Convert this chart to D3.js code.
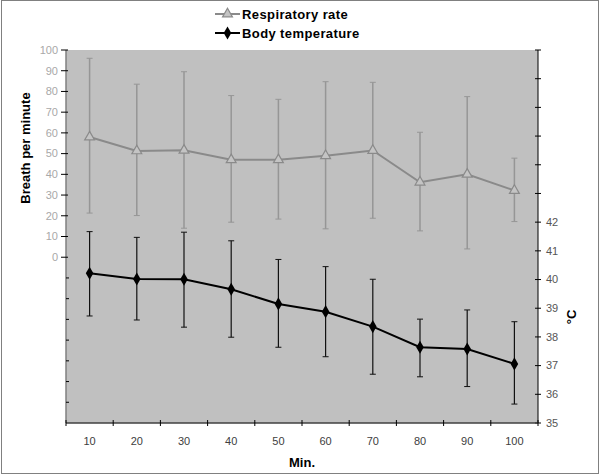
<!DOCTYPE html>
<html>
<head>
<meta charset="utf-8">
<script src="https://cdn.jsdelivr.net/npm/d3@7"></script>
<style>
  body { margin: 0; background: #fff; }
  svg { display: block; font-family: "Liberation Sans", Arial, sans-serif; }
</style>
</head>
<body>
<svg id="chart" width="600" height="475"></svg>
<script>
// ---- data ----
const minutes = [10, 20, 30, 40, 50, 60, 70, 80, 90, 100];
const respMean = [58, 51.3, 51.6, 47, 47, 49, 51.5, 36.2, 40, 32.2];
const respHigh = [96, 83.5, 89.5, 78, 76.2, 84.7, 84.4, 60.3, 77.5, 47.8];
const respLow  = [21.3, 20.1, 14, 16.9, 18.4, 13.7, 18.8, 12.7, 4, 17.2];
const tempMean = [40.22, 40.02, 40.01, 39.66, 39.15, 38.88, 38.36, 37.64, 37.58, 37.06];
const tempHigh = [41.67, 41.47, 41.65, 41.35, 40.7, 40.45, 40.01, 38.62, 38.94, 38.53];
const tempLow  = [38.73, 38.59, 38.34, 37.99, 37.64, 37.31, 36.7, 36.61, 36.27, 35.66];
const leftTickLabels = [0, 10, 20, 30, 40, 50, 60, 70, 80, 90, 100];
const leftMinorTicks = [-10, -20, -30, -40, -50, -60, -70];
const rightTickLabels = [35, 36, 37, 38, 39, 40, 41, 42];
const rightMinorTicks = [43, 44, 45, 46, 47, 48];
const seriesNames = ["Respiratory rate", "Body temperature"];

// ---- layout ----
const svg = d3.select("#chart");
const L = 66, R = 538, T = 50, B = 423;

const x = d3.scaleBand().domain(minutes).range([L, R]);
const yL = d3.scaleLinear().domain([-80, 100]).range([B, T]);
const yR = d3.scaleLinear().domain([35, 48]).range([B, T]);
const cx = d => x(d) + x.bandwidth() / 2;

// outer frame
svg.append("rect").attr("x", 1.5).attr("y", 0.5).attr("width", 597).attr("height", 473)
  .attr("fill", "#fff").attr("stroke", "#808080").attr("stroke-width", 1);

// plot area
svg.append("rect").attr("x", L).attr("y", T).attr("width", R - L).attr("height", B - T)
  .attr("fill", "#c0c0c0");

// ---- left axis ----
const gL = svg.append("g");
gL.append("line").attr("x1", L).attr("x2", L).attr("y1", T).attr("y2", B)
  .attr("stroke", "#808080").attr("stroke-width", 1.5);
gL.selectAll(".lt").data(leftTickLabels).join("line")
  .attr("x1", L - 5).attr("x2", L + 2)
  .attr("y1", d => yL(d)).attr("y2", d => yL(d))
  .attr("stroke", "#000").attr("stroke-width", 1);
gL.selectAll(".lm").data(leftMinorTicks).join("line")
  .attr("x1", L).attr("x2", L + 3)
  .attr("y1", d => yL(d)).attr("y2", d => yL(d))
  .attr("stroke", "#000").attr("stroke-width", 1);
gL.selectAll("text").data(leftTickLabels).join("text")
  .attr("x", L - 8).attr("y", d => yL(d)).attr("dy", "0.35em")
  .attr("text-anchor", "end").attr("font-size", 11).attr("fill", "#a8a8a8")
  .text(d => d);

// ---- right axis ----
const gR = svg.append("g");
gR.append("line").attr("x1", R).attr("x2", R).attr("y1", T).attr("y2", B)
  .attr("stroke", "#000").attr("stroke-width", 1);
gR.selectAll(".rt").data(rightTickLabels.concat(rightMinorTicks)).join("line")
  .attr("x1", R - 3).attr("x2", R + 3)
  .attr("y1", d => yR(d)).attr("y2", d => yR(d))
  .attr("stroke", "#000").attr("stroke-width", 1);
gR.selectAll("text").data(rightTickLabels).join("text")
  .attr("x", R + 8).attr("y", d => yR(d)).attr("dy", "0.35em")
  .attr("text-anchor", "start").attr("font-size", 11).attr("fill", "#555")
  .text(d => d);

// ---- bottom axis ----
const gB = svg.append("g");
gB.append("line").attr("x1", L).attr("x2", R).attr("y1", B).attr("y2", B)
  .attr("stroke", "#404040").attr("stroke-width", 1.5);
const bounds = minutes.map(d => x(d)).concat([x(minutes[minutes.length - 1]) + x.bandwidth()]);
gB.selectAll(".bt").data(bounds).join("line")
  .attr("x1", d => d).attr("x2", d => d).attr("y1", B - 3).attr("y2", B + 3)
  .attr("stroke", "#000").attr("stroke-width", 1);
gB.selectAll("text").data(minutes).join("text")
  .attr("x", d => cx(d)).attr("y", 445)
  .attr("text-anchor", "middle").attr("font-size", 11).attr("fill", "#404040")
  .text(d => d);

// ---- axis titles ----
svg.append("text").attr("transform", "translate(30,148) rotate(-90)")
  .attr("text-anchor", "middle").attr("font-size", 13).attr("font-weight", "bold")
  .text("Breath per minute");
svg.append("text").attr("transform", "translate(576,317) rotate(-90)")
  .attr("text-anchor", "middle").attr("font-size", 13).attr("font-weight", "bold")
  .text("°C");
svg.append("text").attr("x", 302).attr("y", 467)
  .attr("text-anchor", "middle").attr("font-size", 13).attr("font-weight", "bold")
  .text("Min.");

// ---- markers ----
const tri = d3.symbol().type(d3.symbolTriangle).size(42);
const dia = d3.symbol().type(d3.symbolDiamond).size(50);

// ---- respiratory rate series ----
const respColor = "#8a8a8a";
const gResp = svg.append("g");
gResp.selectAll(".eb").data(minutes).join("line")
  .attr("x1", d => cx(d)).attr("x2", d => cx(d))
  .attr("y1", (d, i) => yL(respHigh[i])).attr("y2", (d, i) => yL(respLow[i]))
  .attr("stroke", "#969696").attr("stroke-width", 1.5);
["respHigh", "respLow"].forEach((k, j) => {
  const arr = j === 0 ? respHigh : respLow;
  gResp.selectAll(".cap" + j).data(minutes).join("line")
    .attr("x1", d => cx(d) - 3).attr("x2", d => cx(d) + 3)
    .attr("y1", (d, i) => yL(arr[i])).attr("y2", (d, i) => yL(arr[i]))
    .attr("stroke", "#969696").attr("stroke-width", 1);
});
gResp.append("path")
  .attr("d", d3.line().x(d => cx(d)).y((d, i) => yL(respMean[i]))(minutes))
  .attr("fill", "none").attr("stroke", respColor).attr("stroke-width", 2);
gResp.selectAll(".m").data(minutes).join("path")
  .attr("transform", (d, i) => `translate(${cx(d)},${yL(respMean[i])})`)
  .attr("d", tri).attr("fill", "#c4c4c4").attr("stroke", respColor).attr("stroke-width", 1.2);

// ---- body temperature series ----
const gTemp = svg.append("g");
gTemp.selectAll(".eb").data(minutes).join("line")
  .attr("x1", d => cx(d)).attr("x2", d => cx(d))
  .attr("y1", (d, i) => yR(tempHigh[i])).attr("y2", (d, i) => yR(tempLow[i]))
  .attr("stroke", "#111").attr("stroke-width", 1.2);
[tempHigh, tempLow].forEach((arr, j) => {
  gTemp.selectAll(".cap" + j).data(minutes).join("line")
    .attr("x1", d => cx(d) - 3).attr("x2", d => cx(d) + 3)
    .attr("y1", (d, i) => yR(arr[i])).attr("y2", (d, i) => yR(arr[i]))
    .attr("stroke", "#111").attr("stroke-width", 1);
});
gTemp.append("path")
  .attr("d", d3.line().x(d => cx(d)).y((d, i) => yR(tempMean[i]))(minutes))
  .attr("fill", "none").attr("stroke", "#000").attr("stroke-width", 2);
gTemp.selectAll(".m").data(minutes).join("path")
  .attr("transform", (d, i) => `translate(${cx(d)},${yR(tempMean[i])})`)
  .attr("d", dia).attr("fill", "#000");

// ---- legend ----
const leg = svg.append("g");
const legY = [14, 33];
leg.selectAll(".ll").data(seriesNames).join("line")
  .attr("x1", 215).attr("x2", 240).attr("y1", (d, i) => legY[i]).attr("y2", (d, i) => legY[i])
  .attr("stroke", (d, i) => i === 0 ? respColor : "#000").attr("stroke-width", 2);
leg.append("path").attr("transform", `translate(227.5,${legY[0]})`).attr("d", tri)
  .attr("fill", "#c4c4c4").attr("stroke", respColor).attr("stroke-width", 1.2);
leg.append("path").attr("transform", `translate(227.5,${legY[1]})`).attr("d", dia)
  .attr("fill", "#000");
leg.selectAll("text").data(seriesNames).join("text")
  .attr("x", 242).attr("y", (d, i) => legY[i] + 4.5)
  .attr("font-size", 13).attr("font-weight", "bold").attr("letter-spacing", 0.4)
  .text(d => d);
</script>
</body>
</html>
